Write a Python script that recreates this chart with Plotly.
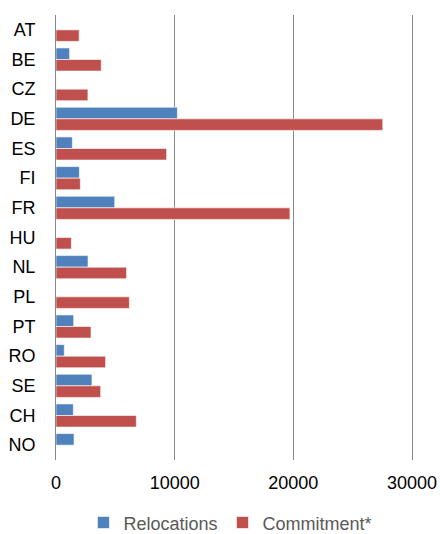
import plotly.graph_objects as go

categories = ["AT", "BE", "CZ", "DE", "ES", "FI", "FR", "HU", "NL", "PL", "PT", "RO", "SE", "CH", "NO"]
relocations = [0, 1150, 12, 10230, 1380, 1970, 4950, 0, 2700, 0, 1490, 700, 3030, 1460, 1520]
commitment = [1953, 3812, 2691, 27536, 9323, 2050, 19714, 1294, 5947, 6182, 2951, 4180, 3766, 6770, 0]
x_ticks = [0, 10000, 20000, 30000]

fig = go.Figure()
fig.add_trace(go.Bar(
    y=categories, x=relocations, name="Relocations", orientation="h",
    marker=dict(color="#4F81BD", line=dict(color="rgba(255,255,255,0.6)", width=1)),
))
fig.add_trace(go.Bar(
    y=categories, x=commitment, name="Commitment*", orientation="h",
    marker=dict(color="#C0504D", line=dict(color="rgba(255,255,255,0.6)", width=1)),
))

fig.update_layout(
    width=440, height=534,
    margin=dict(l=56, r=28, t=15, b=74, autoexpand=False),
    barmode="group", bargap=0.22, bargroupgap=0,
    paper_bgcolor="white", plot_bgcolor="white",
    font=dict(family="Liberation Sans, Arial, sans-serif", size=18, color="black"),
    showlegend=True,
    legend=dict(orientation="h", x=0.49, xanchor="center",
                yref="container", y=0.021, yanchor="middle",
                font=dict(size=18, color="#595959"), traceorder="normal",
                itemwidth=30),
)
fig.update_xaxes(
    range=[0, 30000], tickvals=x_ticks, ticktext=[str(v) for v in x_ticks],
    showgrid=True, gridcolor="#888888", gridwidth=1,
    zeroline=False, showline=False, ticks="", ticklabelstandoff=10,
    automargin=False,
)
fig.update_yaxes(
    categoryorder="array", categoryarray=categories, autorange="reversed",
    showgrid=False, zeroline=False, showline=True, mirror=True,
    linecolor="#888888", linewidth=1,
    ticks="", ticklabelstandoff=16, automargin=False,
)

fig.write_html("out.html", config={"displayModeBar": False})

with open("out.html", "r", encoding="utf-8") as f:
    html = f.read()
html = html.replace("<head>", "<head><style>html,body{margin:0;padding:0;}</style>", 1)
with open("out.html", "w", encoding="utf-8") as f:
    f.write(html)
